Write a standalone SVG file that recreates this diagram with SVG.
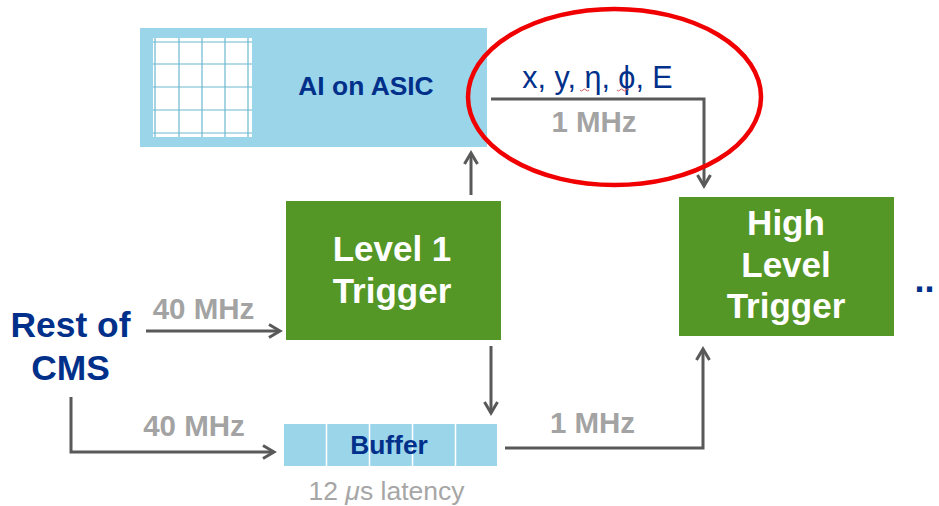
<svg xmlns="http://www.w3.org/2000/svg" width="939" height="506" viewBox="0 0 939 506">
<style>
text{font-family:"Liberation Sans",Arial,sans-serif;text-anchor:middle}
.b{font-weight:bold}
.navy{fill:#00308a}
.grey{fill:#a3a3a3;font-weight:bold;font-size:29.500px}
.w{fill:#fff;font-weight:bold;font-size:35px}
.green{fill:#559726}
.blue{fill:#9bd5e9}
.c{fill:none;stroke:#595959;stroke-width:3}
.g{stroke:#6db8d0;stroke-width:1.200}
.s{stroke:#fff;stroke-width:1.500}
</style>
<defs>
<marker id="a" markerUnits="userSpaceOnUse" markerWidth="18" markerHeight="18" refX="13" refY="8" orient="auto">
<path d="M2 1.500L13 8L2 14.500" fill="none" stroke="#595959" stroke-width="3"/>
</marker>
</defs>
<rect width="939" height="506" fill="#fff"/>
<g id="ai-asic">
<rect class="blue" x="140" y="28" width="347" height="119"/>
<rect x="153" y="38" width="99" height="99" fill="#fff"/>
<path class="g" d="M155 38V137M179 38V137M202 38V137M225 38V137M248 38V137M153 42H252M153 64H252M153 87H252M153 110H252M153 133H252"/>
<text class="b navy" x="366" y="95" font-size="26.400">AI on ASIC</text>
</g>
<g id="level-1-trigger">
<rect class="green" x="286" y="201" width="215" height="139"/>
<text class="w" x="392" y="261">Level 1</text>
<text class="w" x="392" y="303">Trigger</text>
</g>
<g id="high-level-trigger">
<rect class="green" x="679" y="197" width="215" height="139"/>
<text class="w" x="786" y="235">High</text>
<text class="w" x="786" y="277">Level</text>
<text class="w" x="786" y="318">Trigger</text>
</g>
<g id="buffer">
<rect class="blue" x="284" y="424" width="213" height="42"/>
<path class="s" d="M326.500 424V466M369.500 424V466M412.500 424V466M455.500 424V466"/>
<text class="b navy" x="389" y="454" font-size="26.400">Buffer</text>
<text x="386.500" y="500" font-size="26.500" fill="#a6a6a6">12 <tspan font-style="italic">μ</tspan>s latency</text>
</g>
<g id="rest-of-cms">
<text class="b navy" x="70.500" y="337" font-size="35.400">Rest of</text>
<text class="b navy" x="70.500" y="380" font-size="35.400">CMS</text>
</g>
<g id="connectors">
<path class="c" d="M471 195V153" marker-end="url(#a)"/>
<path class="c" d="M491 99H704V186" marker-end="url(#a)"/>
<path class="c" d="M146 331H280" marker-end="url(#a)"/>
<path class="c" d="M491 346V413" marker-end="url(#a)"/>
<path class="c" d="M71 397V452H274" marker-end="url(#a)"/>
<path class="c" d="M505 448H703V349" marker-end="url(#a)"/>
</g>
<g id="labels">
<text class="navy" x="597.500" y="88" font-size="30.500">x, y, η, ϕ, E</text>
<path d="M580 90q1.500 2 3 0t3 0t3 0M617 90q1.500 2 3 0t3 0t3 0t3 0" fill="none" stroke="#d45a5a" stroke-width="1"/>
<text class="grey" x="594" y="132">1 MHz</text>
<text class="grey" x="203.500" y="319">40 MHz</text>
<text class="grey" x="194" y="436">40 MHz</text>
<text class="grey" x="592.500" y="433">1 MHz</text>
<text class="b navy" x="924.500" y="292" font-size="36">..</text>
</g>
<ellipse id="highlight" cx="614.500" cy="97" rx="146.500" ry="88" fill="none" stroke="#f00000" stroke-width="4.500"/>
</svg>
